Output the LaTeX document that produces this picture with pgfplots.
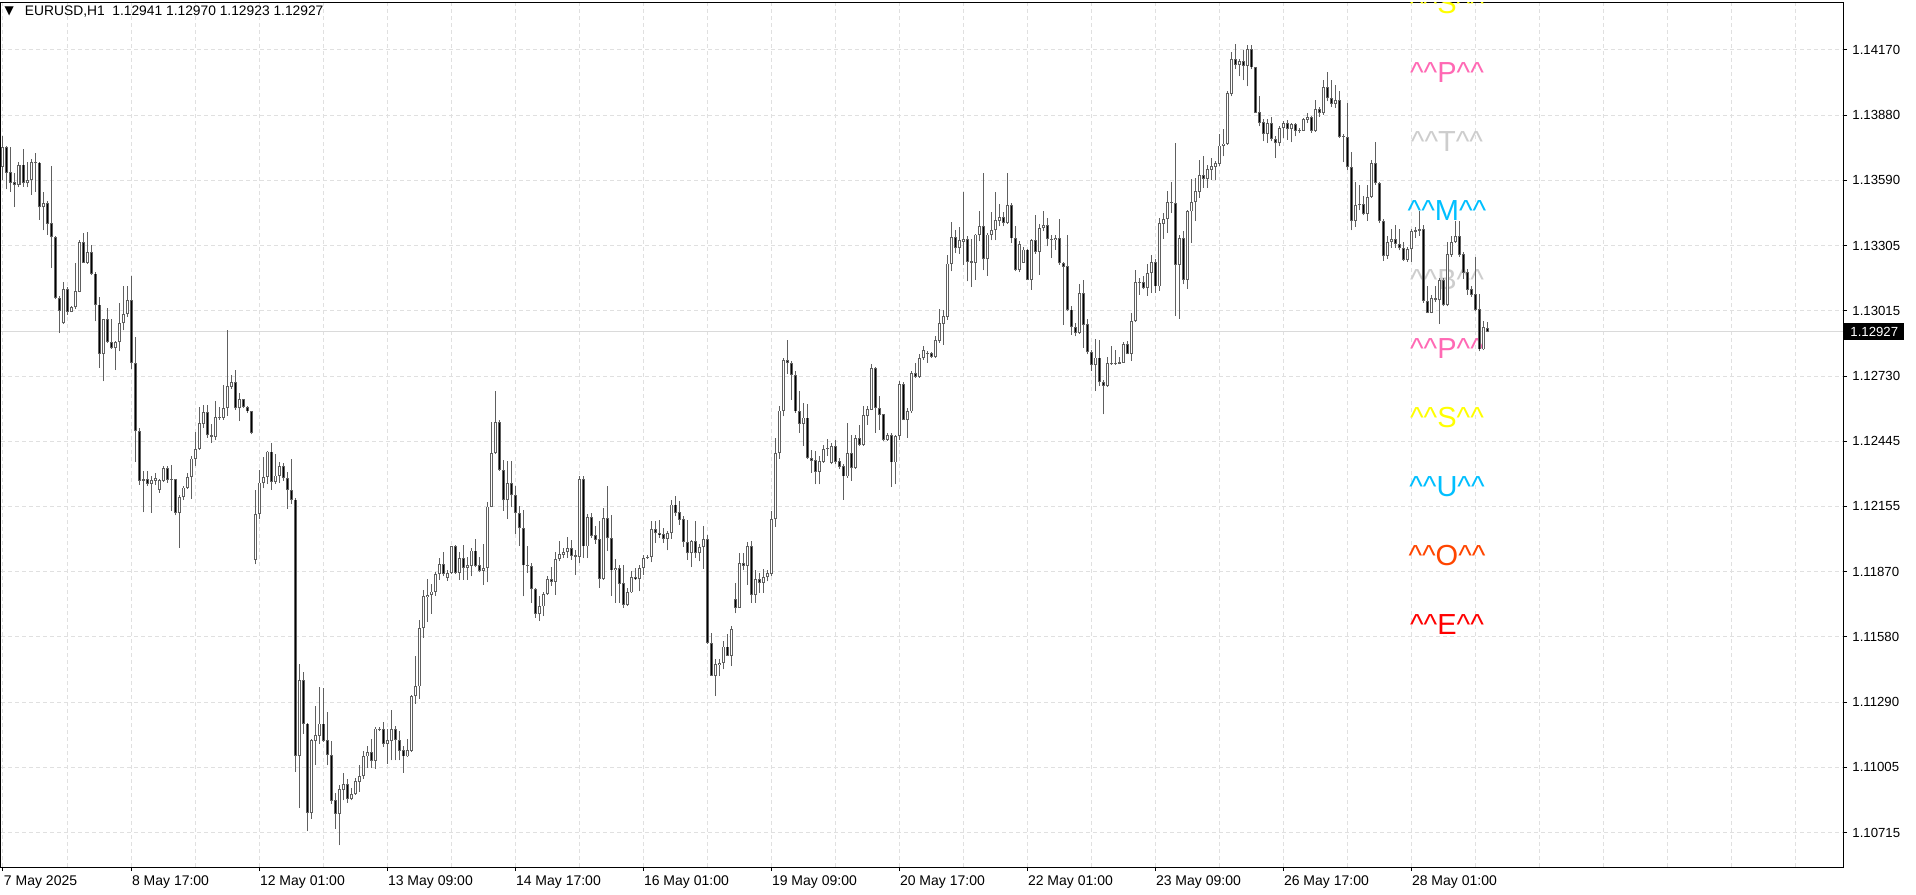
\documentclass[border=0pt]{standalone}
\usepackage{fontspec}
\setmainfont{Liberation Sans}
\newfontfamily\dejavu{DejaVu Sans}
\usepackage{pgfplots}
\usepackage{pgfplotstable}
\pgfplotsset{compat=1.18}
\definecolor{wick}{RGB}{96,96,96}
\definecolor{gridc}{RGB}{224,224,224}
\definecolor{pline}{RGB}{218,218,218}
\definecolor{hpink}{RGB}{255,105,180}
\definecolor{dsblue}{RGB}{0,191,255}
\definecolor{orred}{RGB}{255,69,0}
\definecolor{ltg}{RGB}{205,205,205}
\definecolor{yel}{RGB}{255,255,0}
\newcommand\cc{\textasciicircum}

\pgfplotstableread{
x o h l c
0 1.13655 1.13790 1.13596 1.13740
1 1.13740 1.13745 1.13555 1.13629
2 1.13629 1.13740 1.13545 1.13586
3 1.13586 1.13626 1.13476 1.13574
4 1.13574 1.13674 1.13563 1.13663
5 1.13663 1.13733 1.13567 1.13582
6 1.13582 1.13674 1.13563 1.13596
7 1.13596 1.13688 1.13530 1.13674
8 1.13674 1.13714 1.13545 1.13672
9 1.13672 1.13676 1.13420 1.13476
10 1.13476 1.13545 1.13373 1.13493
11 1.13493 1.13504 1.13354 1.13405
12 1.13405 1.13658 1.13207 1.13344
13 1.13344 1.13347 1.13070 1.13075
14 1.13075 1.13085 1.12920 1.13020
15 1.12964 1.13145 1.12960 1.13114
16 1.13114 1.13122 1.13001 1.13016
17 1.13016 1.13038 1.13012 1.13035
18 1.13035 1.13229 1.13026 1.13104
19 1.13104 1.13332 1.13100 1.13322
20 1.13322 1.13361 1.13229 1.13232
21 1.13232 1.13365 1.13226 1.13277
22 1.13277 1.13310 1.13177 1.13182
23 1.13182 1.13190 1.12972 1.13045
24 1.13045 1.13079 1.12766 1.12828
25 1.12828 1.12982 1.12707 1.12979
26 1.12979 1.13030 1.12878 1.12881
27 1.12881 1.12982 1.12850 1.12854
28 1.12854 1.12884 1.12756 1.12881
29 1.12881 1.13052 1.12839 1.12964
30 1.12964 1.13130 1.12932 1.13005
31 1.13005 1.13129 1.12993 1.13066
32 1.13066 1.13173 1.12761 1.12788
33 1.12788 1.12905 1.12351 1.12487
34 1.12487 1.12502 1.12251 1.12269
35 1.12269 1.12310 1.12129 1.12274
36 1.12274 1.12313 1.12244 1.12256
37 1.12256 1.12291 1.12126 1.12269
38 1.12269 1.12303 1.12251 1.12279
39 1.12229 1.12276 1.12215 1.12269
40 1.12269 1.12332 1.12262 1.12325
41 1.12325 1.12332 1.12259 1.12274
42 1.12276 1.12339 1.12134 1.12276
43 1.12274 1.12276 1.12115 1.12129
44 1.12129 1.12203 1.11972 1.12196
45 1.12196 1.12244 1.12183 1.12237
46 1.12237 1.12303 1.12232 1.12285
47 1.12285 1.12376 1.12188 1.12365
48 1.12365 1.12482 1.12332 1.12409
49 1.12409 1.12594 1.12406 1.12520
50 1.12520 1.12603 1.12501 1.12570
51 1.12570 1.12604 1.12457 1.12470
52 1.12470 1.12520 1.12435 1.12464
53 1.12464 1.12619 1.12447 1.12550
54 1.12550 1.12594 1.12538 1.12548
55 1.12548 1.12692 1.12538 1.12589
56 1.12589 1.12935 1.12556 1.12685
57 1.12685 1.12737 1.12673 1.12704
58 1.12704 1.12759 1.12582 1.12589
59 1.12589 1.12655 1.12531 1.12626
60 1.12626 1.12629 1.12589 1.12594
61 1.12594 1.12597 1.12567 1.12575
62 1.12575 1.12578 1.12473 1.12482
63 1.11921 1.12226 1.11899 1.12122
64 1.12122 1.12316 1.12097 1.12259
65 1.12258 1.12375 1.12234 1.12285
66 1.12285 1.12400 1.12253 1.12396
67 1.12396 1.12434 1.12228 1.12263
68 1.12263 1.12385 1.12253 1.12290
69 1.12290 1.12352 1.12258 1.12334
70 1.12334 1.12346 1.12268 1.12280
71 1.12280 1.12305 1.12143 1.12228
72 1.12228 1.12366 1.12165 1.12184
73 1.12184 1.12190 1.10982 1.11055
74 1.11055 1.11459 1.10823 1.11386
75 1.11386 1.11425 1.11151 1.11195
76 1.11195 1.11200 1.10721 1.10802
77 1.10802 1.11129 1.10776 1.11121
78 1.11121 1.11273 1.11014 1.11143
79 1.11143 1.11356 1.11107 1.11195
80 1.11195 1.11352 1.11114 1.11121
81 1.11121 1.11246 1.11011 1.11058
82 1.11058 1.11117 1.10842 1.10857
83 1.10857 1.10890 1.10732 1.10798
84 1.10798 1.10923 1.10658 1.10905
85 1.10905 1.10979 1.10857 1.10926
86 1.10926 1.10952 1.10846 1.10864
87 1.10864 1.10911 1.10857 1.10885
88 1.10885 1.10955 1.10881 1.10940
89 1.10940 1.11011 1.10896 1.10964
90 1.10964 1.11077 1.10952 1.11052
91 1.11052 1.11099 1.10999 1.11070
92 1.11070 1.11129 1.10999 1.11033
93 1.11033 1.11180 1.10996 1.11173
94 1.11173 1.11180 1.11162 1.11170
95 1.11170 1.11205 1.11092 1.11107
96 1.11107 1.11173 1.11018 1.11121
97 1.11121 1.11254 1.11033 1.11170
98 1.11170 1.11184 1.11033 1.11124
99 1.11124 1.11161 1.11033 1.11077
100 1.11077 1.11099 1.10979 1.11052
101 1.11052 1.11129 1.11048 1.11077
102 1.11077 1.11320 1.11070 1.11317
103 1.11317 1.11493 1.11283 1.11361
104 1.11361 1.11655 1.11305 1.11618
105 1.11618 1.11787 1.11573 1.11756
106 1.11756 1.11834 1.11646 1.11764
107 1.11764 1.11812 1.11680 1.11778
108 1.11778 1.11867 1.11761 1.11856
109 1.11856 1.11925 1.11831 1.11900
110 1.11900 1.11955 1.11846 1.11856
111 1.11842 1.11875 1.11827 1.11861
112 1.11861 1.11981 1.11856 1.11977
113 1.11977 1.11984 1.11856 1.11864
114 1.11864 1.11955 1.11831 1.11927
115 1.11927 1.11984 1.11831 1.11886
116 1.11886 1.11930 1.11831 1.11893
117 1.11893 1.11969 1.11846 1.11959
118 1.11959 1.12011 1.11886 1.11893
119 1.11893 1.11930 1.11864 1.11871
120 1.11871 1.11989 1.11808 1.11883
121 1.11883 1.12175 1.11819 1.12153
122 1.12153 1.12528 1.12150 1.12390
123 1.12390 1.12665 1.12386 1.12525
124 1.12525 1.12535 1.12313 1.12316
125 1.12316 1.12360 1.12136 1.12183
126 1.12183 1.12356 1.12099 1.12258
127 1.12258 1.12356 1.12150 1.12205
128 1.12205 1.12243 1.12033 1.12126
129 1.12126 1.12155 1.11979 1.12059
130 1.12059 1.12140 1.11758 1.11895
131 1.11895 1.11979 1.11861 1.11892
132 1.11892 1.11905 1.11729 1.11790
133 1.11790 1.11795 1.11663 1.11680
134 1.11680 1.11758 1.11648 1.11714
135 1.11714 1.11776 1.11670 1.11768
136 1.11768 1.11849 1.11765 1.11832
137 1.11832 1.11887 1.11805 1.11823
138 1.11823 1.11954 1.11765 1.11923
139 1.11923 1.12001 1.11912 1.11942
140 1.11942 1.11971 1.11927 1.11954
141 1.11954 1.12020 1.11927 1.11971
142 1.11971 1.12008 1.11920 1.11937
143 1.11937 1.11964 1.11854 1.11932
144 1.11932 1.12287 1.11905 1.12276
145 1.12276 1.12287 1.11927 1.11979
146 1.11979 1.12123 1.11927 1.12108
147 1.12108 1.12126 1.12015 1.12027
148 1.12027 1.12067 1.11990 1.12008
149 1.12008 1.12089 1.11795 1.11835
150 1.11835 1.12148 1.11832 1.12104
151 1.12104 1.12246 1.11957 1.12015
152 1.12015 1.12118 1.11761 1.11873
153 1.11873 1.11923 1.11729 1.11883
154 1.11883 1.11898 1.11729 1.11814
155 1.11814 1.11898 1.11707 1.11721
156 1.11721 1.11795 1.11714 1.11776
157 1.11776 1.11868 1.11773 1.11843
158 1.11843 1.11883 1.11829 1.11835
159 1.11835 1.11898 1.11780 1.11883
160 1.11883 1.11942 1.11854 1.11927
161 1.11927 1.11942 1.11923 1.11932
162 1.11932 1.12089 1.11908 1.12055
163 1.12055 1.12089 1.11993 1.12037
164 1.12037 1.12096 1.12015 1.12030
165 1.12030 1.12059 1.11993 1.12011
166 1.12011 1.12045 1.11961 1.12037
167 1.12037 1.12184 1.12011 1.12162
168 1.12162 1.12202 1.12111 1.12129
169 1.12129 1.12177 1.12074 1.12096
170 1.12096 1.12111 1.11976 1.11998
171 1.11998 1.12096 1.11920 1.11949
172 1.11949 1.12008 1.11887 1.12001
173 1.12001 1.12089 1.11927 1.11949
174 1.11949 1.11990 1.11912 1.11976
175 1.11976 1.12067 1.11879 1.12008
176 1.12008 1.12030 1.11549 1.11552
177 1.11552 1.11596 1.11405 1.11408
178 1.11408 1.11482 1.11317 1.11457
179 1.11457 1.11482 1.11405 1.11464
180 1.11464 1.11560 1.11435 1.11535
181 1.11535 1.11593 1.11494 1.11496
182 1.11496 1.11629 1.11450 1.11614
183 1.11746 1.11817 1.11682 1.11707
184 1.11707 1.11949 1.11707 1.11905
185 1.11905 1.11949 1.11876 1.11893
186 1.11893 1.11996 1.11810 1.11979
187 1.11979 1.12001 1.11729 1.11765
188 1.11765 1.11876 1.11729 1.11832
189 1.11832 1.11861 1.11773 1.11817
190 1.11817 1.11879 1.11773 1.11843
191 1.11843 1.11876 1.11824 1.11858
192 1.11858 1.12133 1.11849 1.12099
193 1.12099 1.12456 1.12064 1.12390
194 1.12390 1.12599 1.12364 1.12577
195 1.12577 1.12809 1.12552 1.12802
196 1.12802 1.12891 1.12740 1.12788
197 1.12788 1.12796 1.12626 1.12735
198 1.12735 1.12751 1.12568 1.12575
199 1.12575 1.12663 1.12479 1.12521
200 1.12521 1.12612 1.12421 1.12546
201 1.12546 1.12609 1.12366 1.12369
202 1.12369 1.12406 1.12303 1.12357
203 1.12357 1.12399 1.12252 1.12310
204 1.12310 1.12377 1.12252 1.12354
205 1.12354 1.12428 1.12347 1.12409
206 1.12409 1.12453 1.12377 1.12413
207 1.12347 1.12435 1.12340 1.12421
208 1.12421 1.12447 1.12340 1.12354
209 1.12354 1.12369 1.12318 1.12332
210 1.12332 1.12340 1.12185 1.12288
211 1.12288 1.12521 1.12281 1.12391
212 1.12391 1.12472 1.12267 1.12325
213 1.12325 1.12472 1.12322 1.12457
214 1.12457 1.12516 1.12421 1.12428
215 1.12428 1.12597 1.12421 1.12556
216 1.12556 1.12600 1.12516 1.12582
217 1.12582 1.12784 1.12580 1.12766
218 1.12766 1.12770 1.12479 1.12590
219 1.12590 1.12641 1.12494 1.12560
220 1.12560 1.12563 1.12443 1.12450
221 1.12450 1.12479 1.12443 1.12468
222 1.12468 1.12479 1.12241 1.12350
223 1.12350 1.12472 1.12252 1.12465
224 1.12465 1.12707 1.12450 1.12693
225 1.12693 1.12703 1.12535 1.12538
226 1.12538 1.12590 1.12458 1.12575
227 1.12575 1.12751 1.12568 1.12744
228 1.12744 1.12788 1.12722 1.12729
229 1.12729 1.12829 1.12722 1.12810
230 1.12810 1.12862 1.12803 1.12844
231 1.12830 1.12840 1.12788 1.12830
232 1.12830 1.12835 1.12810 1.12815
233 1.12815 1.12906 1.12810 1.12888
234 1.12888 1.13026 1.12876 1.12962
235 1.12962 1.13023 1.12869 1.12994
236 1.12994 1.13266 1.12979 1.13226
237 1.13226 1.13409 1.13192 1.13344
238 1.13344 1.13376 1.13273 1.13295
239 1.13295 1.13388 1.13270 1.13329
240 1.13325 1.13541 1.13222 1.13335
241 1.13335 1.13350 1.13148 1.13237
242 1.13237 1.13335 1.13123 1.13232
243 1.13232 1.13358 1.13156 1.13354
244 1.13354 1.13457 1.13325 1.13391
245 1.13391 1.13626 1.13197 1.13247
246 1.13247 1.13364 1.13173 1.13354
247 1.13354 1.13453 1.13329 1.13376
248 1.13376 1.13545 1.13329 1.13417
249 1.13417 1.13491 1.13391 1.13432
250 1.13432 1.13453 1.13391 1.13409
251 1.13409 1.13629 1.13403 1.13486
252 1.13486 1.13494 1.13317 1.13339
253 1.13339 1.13394 1.13192 1.13200
254 1.13200 1.13325 1.13188 1.13314
255 1.13232 1.13300 1.13229 1.13288
256 1.13288 1.13292 1.13153 1.13156
257 1.13156 1.13335 1.13112 1.13329
258 1.13329 1.13442 1.13270 1.13281
259 1.13281 1.13403 1.13178 1.13384
260 1.13384 1.13457 1.13369 1.13394
261 1.13394 1.13428 1.13303 1.13335
262 1.13335 1.13354 1.13251 1.13332
263 1.13332 1.13354 1.13288 1.13340
264 1.13340 1.13423 1.13222 1.13229
265 1.13229 1.13232 1.12957 1.13215
266 1.13215 1.13354 1.13016 1.13023
267 1.13023 1.13038 1.12913 1.12947
268 1.12947 1.12965 1.12906 1.12923
269 1.12923 1.13138 1.12918 1.13095
270 1.13095 1.13156 1.12855 1.12958
271 1.12958 1.12983 1.12826 1.12836
272 1.12836 1.12845 1.12752 1.12782
273 1.12782 1.12892 1.12664 1.12811
274 1.12811 1.12889 1.12686 1.12704
275 1.12704 1.12715 1.12561 1.12689
276 1.12689 1.12816 1.12683 1.12786
277 1.12786 1.12865 1.12781 1.12783
278 1.12786 1.12845 1.12781 1.12786
279 1.12786 1.12816 1.12783 1.12790
280 1.12790 1.12880 1.12788 1.12870
281 1.12870 1.12885 1.12826 1.12830
282 1.12830 1.13010 1.12796 1.12973
283 1.12973 1.13198 1.12968 1.13145
284 1.13145 1.13164 1.13090 1.13143
285 1.13143 1.13174 1.13113 1.13120
286 1.13120 1.13223 1.13086 1.13186
287 1.13186 1.13267 1.13098 1.13233
288 1.13233 1.13248 1.13098 1.13127
289 1.13127 1.13428 1.13105 1.13403
290 1.13403 1.13450 1.13336 1.13424
291 1.13424 1.13546 1.13362 1.13498
292 1.13498 1.13586 1.13450 1.13495
293 1.13495 1.13759 1.12995 1.13223
294 1.13223 1.13351 1.12983 1.13340
295 1.13340 1.13370 1.13135 1.13156
296 1.13156 1.13465 1.13115 1.13458
297 1.13458 1.13600 1.13318 1.13499
298 1.13499 1.13605 1.13414 1.13546
299 1.13546 1.13683 1.13517 1.13615
300 1.13615 1.13700 1.13561 1.13602
301 1.13602 1.13664 1.13561 1.13642
302 1.13642 1.13693 1.13598 1.13656
303 1.13656 1.13678 1.13598 1.13668
304 1.13668 1.13800 1.13656 1.13747
305 1.13747 1.13821 1.13700 1.13756
306 1.13756 1.13987 1.13751 1.13977
307 1.13977 1.14163 1.13965 1.14130
308 1.14130 1.14197 1.14086 1.14105
309 1.14105 1.14130 1.14053 1.14122
310 1.14122 1.14171 1.14036 1.14100
311 1.14100 1.14193 1.14009 1.14174
312 1.14174 1.14193 1.14086 1.14094
313 1.14094 1.14097 1.13891 1.13894
314 1.13894 1.13965 1.13833 1.13850
315 1.13850 1.13865 1.13767 1.13800
316 1.13800 1.13865 1.13759 1.13847
317 1.13847 1.13874 1.13767 1.13777
318 1.13777 1.13789 1.13693 1.13759
319 1.13759 1.13833 1.13744 1.13825
320 1.13825 1.13855 1.13781 1.13847
321 1.13847 1.13862 1.13774 1.13821
322 1.13821 1.13847 1.13762 1.13840
323 1.13840 1.13847 1.13789 1.13814
324 1.13814 1.13825 1.13803 1.13815
325 1.13815 1.13869 1.13812 1.13862
326 1.13862 1.13891 1.13847 1.13874
327 1.13874 1.13880 1.13805 1.13815
328 1.13815 1.13950 1.13810 1.13909
329 1.13909 1.13918 1.13874 1.13891
330 1.13891 1.14039 1.13884 1.14006
331 1.14006 1.14075 1.13943 1.13958
332 1.13958 1.14039 1.13918 1.13933
333 1.13933 1.14016 1.13914 1.13946
334 1.13946 1.13987 1.13781 1.13789
335 1.13789 1.13800 1.13674 1.13786
336 1.13786 1.13936 1.13641 1.13653
337 1.13653 1.13718 1.13373 1.13415
338 1.13415 1.13588 1.13388 1.13486
339 1.13486 1.13573 1.13462 1.13490
340 1.13490 1.13527 1.13440 1.13447
341 1.13447 1.13573 1.13415 1.13521
342 1.13521 1.13685 1.13518 1.13670
343 1.13670 1.13763 1.13573 1.13583
344 1.13583 1.13588 1.13406 1.13415
345 1.13415 1.13424 1.13239 1.13261
346 1.13261 1.13350 1.13248 1.13322
347 1.13322 1.13378 1.13295 1.13335
348 1.13335 1.13397 1.13295 1.13313
349 1.13313 1.13378 1.13285 1.13295
350 1.13295 1.13322 1.13238 1.13245
351 1.13245 1.13300 1.13235 1.13291
352 1.13291 1.13378 1.13235 1.13369
353 1.13369 1.13388 1.13341 1.13372
354 1.13372 1.13458 1.13350 1.13378
355 1.13378 1.13397 1.13053 1.13062
356 1.13062 1.13127 1.13007 1.13012
357 1.13012 1.13090 1.13007 1.13072
358 1.13072 1.13127 1.13057 1.13066
359 1.13066 1.13164 1.12960 1.13153
360 1.13153 1.13164 1.13038 1.13044
361 1.13044 1.13322 1.13038 1.13267
362 1.13267 1.13350 1.13257 1.13322
363 1.13322 1.13415 1.13317 1.13347
364 1.13347 1.13415 1.13257 1.13267
365 1.13267 1.13280 1.13161 1.13187
366 1.13187 1.13202 1.13090 1.13112
367 1.13112 1.13127 1.13081 1.13090
368 1.13090 1.13254 1.13016 1.13025
369 1.13025 1.13094 1.12839 1.12849
370 1.12849 1.12975 1.12845 1.12945
371 1.12941 1.12970 1.12923 1.12927
}\candles

\begin{document}
\begin{tikzpicture}
\begin{axis}[
  at={(0.5pt,13.5pt)}, anchor=south west,
  width=921pt, height=432pt, scale only axis,
  xmin=-0.5, xmax=460, ymin=1.105627, ymax=1.143775,
  axis line style={black, line width=0.5pt},
  xtick={0,32,64,96,128,160,192,224,256,288,320,352},
  xticklabels={7 May 2025, 8 May 17:00, 12 May 01:00, 13 May 09:00, 14 May 17:00, 16 May 01:00, 19 May 09:00, 20 May 17:00, 22 May 01:00, 23 May 09:00, 26 May 17:00, 28 May 01:00},
  minor xtick={16,48,80,112,144,176,208,240,272,304,336,368,384,400,416,432,448},
  ytick={1.10715,1.110029,1.112908,1.115788,1.118667,1.121546,1.124425,1.127304,1.130183,1.133063,1.135942,1.138821,1.14170},
  yticklabels={1.10715,1.11005,1.11290,1.11580,1.11870,1.12155,1.12445,1.12730,1.13015,1.13305,1.13590,1.13880,1.14170},
  xtick pos=left, ytick pos=right, yticklabel pos=right,
  tick align=outside, major tick length=2pt, minor tick length=0pt,
  tick style={black, line width=0.5pt},
  xmajorgrids, xminorgrids, ymajorgrids,
  major grid style={gridc, line width=0.5pt, dash pattern=on 2pt off 1.5pt},
  minor grid style={gridc, line width=0.5pt, dash pattern=on 2pt off 1.5pt},
  xticklabel style={anchor=north west, font=\fontsize{7}{8}\selectfont, inner sep=0pt, xshift=0.3pt, yshift=-2pt},
  yticklabel style={anchor=west, font=\fontsize{6.6}{8}\selectfont, inner sep=0pt, xshift=2.5pt},
  candle/.style={draw=none, mark=none, forget plot},
]
% level labels (behind candles)
\node[text=yel, font=\fontsize{14.5}{16}\selectfont, inner sep=0pt] at (axis cs:361,1.14373) {\cc\cc S\cc\cc};
\node[text=hpink, font=\fontsize{14.5}{16}\selectfont, inner sep=0pt] at (axis cs:361,1.14069) {\cc\cc P\cc\cc};
\node[text=ltg, font=\fontsize{14.5}{16}\selectfont, inner sep=0pt] at (axis cs:361,1.13765) {\cc\cc T\cc\cc};
\node[text=dsblue, font=\fontsize{14.5}{16}\selectfont, inner sep=0pt] at (axis cs:361,1.13461) {\cc\cc M\cc\cc};
\node[text=ltg, font=\fontsize{14.5}{16}\selectfont, inner sep=0pt] at (axis cs:361,1.13157) {\cc\cc B\cc\cc};
\node[text=hpink, font=\fontsize{14.5}{16}\selectfont, inner sep=0pt] at (axis cs:361,1.12852) {\cc\cc P\cc\cc};
\node[text=yel, font=\fontsize{14.5}{16}\selectfont, inner sep=0pt] at (axis cs:361,1.12548) {\cc\cc S\cc\cc};
\node[text=dsblue, font=\fontsize{14.5}{16}\selectfont, inner sep=0pt] at (axis cs:361,1.12244) {\cc\cc U\cc\cc};
\node[text=orred, font=\fontsize{14.5}{16}\selectfont, inner sep=0pt] at (axis cs:361,1.11940) {\cc\cc O\cc\cc};
\node[text=red, font=\fontsize{14.5}{16}\selectfont, inner sep=0pt] at (axis cs:361,1.11635) {\cc\cc E\cc\cc};
% current price line
\addplot[pline, line width=0.5pt, forget plot] coordinates {(-0.5,1.12927) (460,1.12927)};
% wicks
\addplot[candle, error bars/.cd, y dir=plus, y explicit, error mark=none,
  error bar style={draw=wick, line width=0.5pt}]
  table[x=x, y=l, y error expr=\thisrow{h}-\thisrow{l}] {\candles};
% bodies (outline)
\addplot[candle, error bars/.cd, y dir=plus, y explicit, error mark=none,
  error bar style={draw=wick, line width=1.5pt}]
  table[x=x, y expr={min(\thisrow{o},\thisrow{c})-0.000011}, y error expr={abs(\thisrow{c}-\thisrow{o})+0.000022}] {\candles};
% bull interior
\addplot[candle, error bars/.cd, y dir=plus, y explicit, error mark=none,
  error bar style={draw=white, line width=0.5pt}]
  table[x=x, y expr={\thisrow{o}+0.00003}, y error expr={max(\thisrow{c}-\thisrow{o}-0.00006,0)}] {\candles};
% bear interior
\addplot[candle, error bars/.cd, y dir=plus, y explicit, error mark=none,
  error bar style={draw=black, line width=0.5pt}]
  table[x=x, y expr={\thisrow{c}+0.00003}, y error expr={max(\thisrow{o}-\thisrow{c}-0.00006,0)}] {\candles};
\coordinate (cp) at (axis cs:460,1.12927);
\end{axis}
\node[fill=black, text=white, anchor=west, font=\fontsize{6.6}{8}\selectfont, inner xsep=3pt, inner ysep=1.85pt, text height=4.8pt, text depth=0pt, xshift=0.5pt] at (cp) {1.12927};
\node[anchor=center, inner sep=0pt, font=\dejavu\fontsize{6}{7}\selectfont] at (4.6pt,441.3pt) {▼};
\node[anchor=west, inner sep=0pt, font=\fontsize{6.9}{8}\selectfont] at (12.3pt,441.3pt) {EURUSD,H1\ \ 1.12941 1.12970 1.12923 1.12927};
\pgfresetboundingbox
\path[use as bounding box] (0,0) rectangle (958pt,447pt);
\end{tikzpicture}
\end{document}
